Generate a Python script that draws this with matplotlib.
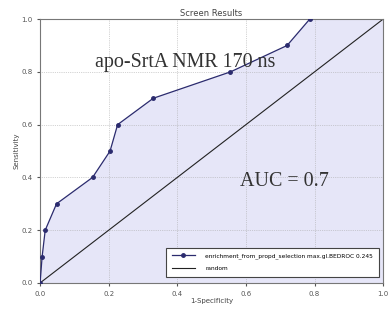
import numpy as np
import matplotlib
matplotlib.use("Agg")
import matplotlib.pyplot as plt

# ROC points
fpr = [0.0, 0.006, 0.015, 0.048, 0.153, 0.204, 0.226, 0.33, 0.555, 0.72, 0.786]
tpr = [0.0, 0.1, 0.2, 0.3, 0.4, 0.5, 0.6, 0.7, 0.8, 0.9, 1.0]
random_x = [0.0, 1.0]
random_y = [0.0, 1.0]
ticks = [0.0, 0.2, 0.4, 0.6, 0.8, 1.0]
curve_label = "enrichment_from_propd_selection max.gl.BEDROC 0.245"

fig = plt.figure(figsize=(3.89, 3.13), dpi=100)
ax = fig.add_axes([0.103, 0.096, 0.882, 0.843])

x_fill = fpr + [1.0]
y_fill = tpr + [1.0]
ax.fill_between(x_fill, 0, y_fill, color="#e6e6f8", zorder=1)
ax.plot(fpr, tpr, "-o", color="#2b2b6e", lw=0.9, ms=2.5, label=curve_label, zorder=3)
ax.plot(random_x, random_y, "-", color="#222222", lw=0.8, label="random", zorder=2)

ax.set_xlim(0, 1)
ax.set_ylim(0, 1)
ax.set_xticks(ticks)
ax.set_yticks(ticks)
ax.tick_params(labelsize=5, length=2, colors="#555555")
ax.grid(True, ls=":", lw=0.5, color="#aaaaaa")
for s in ax.spines.values():
    s.set_color("#777777")

ax.set_title("Screen Results", fontsize=6, color="#444444", pad=2)
ax.set_xlabel("1-Specificity", fontsize=5, color="#444444", labelpad=1)
ax.set_ylabel("Sensitivity", fontsize=5, color="#444444", labelpad=1)

ax.text(0.16, 0.82, "apo-SrtA NMR 170 ns", fontsize=14.4, family="Liberation Serif",
        color="#333333", zorder=4)
ax.text(0.583, 0.367, "AUC = 0.7", fontsize=14.4, family="Liberation Serif",
        color="#333333", zorder=4)

leg = ax.legend(loc="lower right", bbox_to_anchor=(0.99, 0.02), fontsize=4.2,
                frameon=True, fancybox=False, borderpad=0.9, labelspacing=1.3,
                handlelength=4, handletextpad=1.8, borderaxespad=0.2)
leg.get_frame().set_edgecolor("#444444")
leg.get_frame().set_linewidth(0.8)
leg.get_frame().set_alpha(1)

fig.savefig("out.png", dpi=100)
